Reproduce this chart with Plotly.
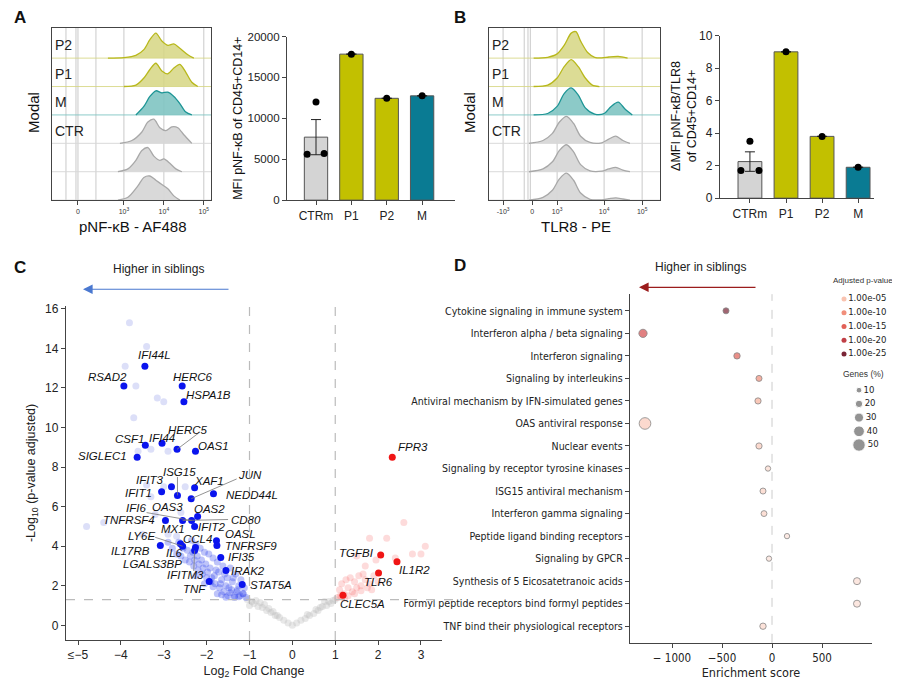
import plotly.graph_objects as go

# ---------------- DATA ----------------
histA_rows = ["P2", "P1", "M", "CTR", "", ""]
histA_x = [
    [2.6, 3.0, 3.3, 3.5, 3.65, 3.8, 3.95, 4.1, 4.25, 4.4, 4.6, 4.75],
    [3.0, 3.3, 3.5, 3.65, 3.8, 3.95, 4.1, 4.25, 4.4, 4.55, 4.7, 4.85],
    [3.3, 3.5, 3.65, 3.8, 3.95, 4.1, 4.25, 4.4, 4.55, 4.7],
    [2.9, 3.2, 3.45, 3.6, 3.75, 3.9, 4.05, 4.2, 4.35, 4.5, 4.7],
    [2.85, 3.1, 3.3, 3.45, 3.6, 3.75, 3.9, 4.0, 4.15, 4.3, 4.45],
    [2.85, 3.1, 3.35, 3.5, 3.65, 3.8, 3.95, 4.1, 4.25, 4.4],
]
histA_y = [
    [0, 0.02, 0.1, 0.3, 0.65, 0.88, 0.6, 0.45, 0.5, 0.35, 0.12, 0],
    [0, 0.05, 0.3, 0.6, 0.82, 0.55, 0.45, 0.65, 0.78, 0.5, 0.15, 0],
    [0, 0.3, 0.65, 0.85, 0.78, 0.8, 0.65, 0.4, 0.1, 0],
    [0, 0.1, 0.4, 0.75, 0.85, 0.55, 0.45, 0.58, 0.55, 0.3, 0],
    [0, 0.1, 0.4, 0.75, 0.85, 0.55, 0.4, 0.45, 0.3, 0.1, 0],
    [0, 0.1, 0.5, 0.8, 0.85, 0.7, 0.55, 0.4, 0.15, 0],
]
histB_x = [
    [2.5, 2.8, 3.0, 3.15, 3.3, 3.4, 3.5, 3.65, 3.8, 3.95, 4.1, 4.3, 4.5],
    [2.5, 2.8, 3.0, 3.15, 3.3, 3.45, 3.6, 3.75, 3.9],
    [2.5, 2.8, 3.0, 3.15, 3.3, 3.45, 3.6, 3.8, 4.0, 4.15, 4.3, 4.45, 4.6],
    [2.4, 2.7, 2.9, 3.05, 3.2, 3.35, 3.5, 3.7, 3.95, 4.1, 4.25, 4.4, 4.55],
    [2.4, 2.7, 2.9, 3.05, 3.2, 3.35, 3.5, 3.7, 3.95, 4.1, 4.25, 4.4, 4.55],
    [2.4, 2.7, 2.9, 3.05, 3.2, 3.35, 3.5, 3.7, 3.95, 4.1, 4.25, 4.4, 4.55],
]
histB_y = [
    [0, 0.03, 0.15, 0.45, 0.88, 0.93, 0.6, 0.2, 0.03, 0.01, 0.04, 0.06, 0],
    [0, 0.05, 0.3, 0.7, 0.95, 0.7, 0.3, 0.05, 0],
    [0, 0.05, 0.3, 0.75, 0.95, 0.7, 0.25, 0.03, 0.05, 0.3, 0.45, 0.2, 0],
    [0, 0.1, 0.35, 0.75, 0.95, 0.7, 0.25, 0.03, 0.02, 0.15, 0.25, 0.1, 0],
    [0, 0.1, 0.35, 0.75, 0.95, 0.7, 0.25, 0.03, 0.02, 0.1, 0.15, 0.06, 0],
    [0, 0.1, 0.35, 0.75, 0.95, 0.7, 0.25, 0.03, 0.01, 0.05, 0.08, 0.04, 0],
]
row_kind = ["y", "y", "t", "g", "g", "g"]

bar_cats = ["CTRm", "P1", "P2", "M"]
barA_vals = [7700, 17850, 12450, 12750]
barA_err = [2150, 0, 0, 0]
barA_pts_x = [-0.25, 0, 0.23, 1, 2, 3]
barA_pts_y = [5600, 12000, 5700, 17850, 12450, 12750]
barA_ticks = [0, 5000, 10000, 15000, 20000]
barB_vals = [2.25, 9.0, 3.8, 1.9]
barB_err = [0.6, 0, 0, 0]
barB_pts_x = [-0.25, 0, 0.25, 1, 2, 3]
barB_pts_y = [1.7, 3.5, 1.7, 9.0, 3.8, 1.9]

genes = ["IFI44L", "RSAD2", "HERC6", "HSPA1B", "CSF1", "IFI44", "HERC5", "OAS1", "SIGLEC1",
         "IFIT3", "XAF1", "IFIT1", "ISG15", "NEDD44L", "JUN", "OAS2", "TNFRSF4", "IFI6", "OAS3",
         "IFIT2", "LY6E", "CCL4", "IL17RB", "IL6", "LGALS3BP", "OASL", "TNFRSF9", "IFI35",
         "IRAK2", "STAT5A", "TNF"]
genes_fc = [-3.44, -3.93, -2.57, -2.53, -3.43, -3.04, -2.69, -2.26, -3.62,
            -2.82, -2.28, -3.05, -2.68, -1.84, -2.36, -2.21, -2.96, -2.56, -2.35,
            -2.28, -2.61, -2.56, -3.08, -2.26, -2.28, -1.77, -1.76, -1.67,
            -1.55, -1.17, -1.94]
genes_p = [13.1, 12.1, 12.1, 11.3, 9.1, 9.2, 8.9, 8.8, 8.5,
           7.0, 6.95, 6.75, 6.57, 6.65, 6.4, 5.5, 5.3, 5.3, 5.3,
           5.0, 4.12, 4.0, 4.03, 3.93, 3.78, 4.27, 4.03, 3.43,
           2.77, 2.06, 2.21]
up_genes = ["FPR3", "TGFBI", "IL1R2", "TLR6", "CLEC5A"]
up_fc = [2.33, 2.06, 2.44, 2.01, 1.18]
up_p = [8.5, 3.56, 3.22, 2.64, 1.52]

faint_blue_x = [-3.8, -3.4, -3.9, -3.65, -3.15, -3.0, -3.7, -3.6, -3.3, -2.9, -3.4, -3.0, -2.5,
                -3.3, -4.8, -4.4, -3.2, -2.6, -3.5, -2.9, -2.7]
faint_blue_y = [15.3, 14.1, 13.1, 12.1, 11.5, 11.3, 10.5, 8.8, 8.9, 8.8, 7.1, 7.0, 7.0,
                6.5, 5.0, 5.2, 5.6, 5.7, 4.6, 4.6, 4.5]
cloud_blue_x = [-1.08, -1.12, -1.15, -1.2, -1.22, -1.25, -1.3, -1.32, -1.35, -1.4,
                -1.42, -1.45, -1.5, -1.52, -1.55, -1.6, -1.62, -1.65, -1.7, -1.72,
                -1.75, -1.8, -1.82, -1.85, -1.9, -1.92, -1.95, -2.0, -2.02, -2.05,
                -2.1, -2.12, -2.15, -2.2, -2.22, -2.25, -2.3, -2.32, -2.35, -2.4,
                -2.45, -2.5, -2.55, -2.6, -2.65, -2.7, -2.8, -2.9,
                -1.15, -1.28, -1.38, -1.48, -1.58, -1.68, -1.78, -1.88, -1.98, -2.08, -2.18, -2.28, -2.38,
                -1.25, -1.45, -1.65, -1.85, -2.05, -2.25, -1.35, -1.55, -1.75]
cloud_blue_y = [1.4, 1.9, 1.6, 2.3, 1.5, 2.0, 1.7, 2.6, 1.4, 2.2,
                1.8, 2.9, 1.5, 2.4, 2.0, 1.7, 3.0, 2.3, 1.9, 2.7,
                3.2, 2.1, 2.5, 3.4, 2.2, 2.9, 3.6, 2.4, 3.1, 3.7,
                2.6, 3.3, 3.9, 2.8, 3.5, 4.1, 3.0, 3.7, 4.3, 3.2,
                3.8, 3.3, 3.9, 3.5, 4.2, 3.6, 3.9, 4.2,
                1.6, 1.8, 2.4, 1.9, 2.6, 2.1, 2.8, 2.4, 2.7, 2.9, 3.1, 3.3, 3.5,
                1.45, 1.65, 1.55, 1.95, 2.1, 2.5, 1.5, 1.42, 1.6]
gray_x = [-1.05, -0.95, -0.9, -0.85, -0.8, -0.7, -0.65, -0.6, -0.5, -0.45, -0.4, -0.3, -0.2, -0.1, 0,
          0.1, 0.2, 0.3, 0.4, 0.5, 0.6, 0.7, 0.8, 0.85, 0.9, 0.95, 1.0, -1.0, -0.75, -0.55, 0.65,
          0.75, 0.55, -0.35, 0.35]
gray_y = [1.3, 1.2, 1.1, 1.25, 0.95, 0.9, 1.05, 0.75, 0.65, 0.7, 0.5, 0.4, 0.25, 0.12, 0,
          0.12, 0.25, 0.35, 0.5, 0.6, 0.75, 0.95, 1.0, 1.2, 1.1, 1.25, 1.3, 1.0, 1.15, 0.85, 0.9,
          1.2, 0.8, 0.5, 0.55]
pink_x = [1.05, 1.1, 1.12, 1.15, 1.2, 1.22, 1.25, 1.3, 1.35, 1.4, 1.45, 1.5, 1.55, 1.6, 1.7, 1.75,
          1.8, 1.9, 2.0, 1.15, 1.3, 1.45, 1.6, 1.65, 1.85, 1.5, 1.8, 2.2, 2.6, 2.8, 3.1, 3.0, 2.4,
          1.7, 1.95]
pink_y = [1.4, 1.8, 1.5, 2.1, 1.6, 1.35, 2.3, 1.9, 2.4, 1.7, 2.2, 1.9, 2.5, 2.0, 2.3, 1.9,
          2.1, 2.5, 2.2, 1.45, 1.5, 1.6, 1.75, 2.6, 1.8, 3.5, 4.4, 4.4, 5.2, 3.6, 4.0, 3.6, 3.4,
          3.0, 3.3]

pathways = ["Cytokine signaling in immune system", "Interferon alpha / beta signaling",
            "Interferon signaling", "Signaling by interleukins",
            "Antiviral mechanism by IFN-simulated genes", "OAS antiviral response",
            "Nuclear events", "Signaling by receptor tyrosine kinases", "ISG15 antiviral mechanism",
            "Interferon gamma signaling", "Peptide ligand binding receptors", "Signaling by GPCR",
            "Synthesis of 5 Eicosatetranoic acids", "Formyl peptide receptors bind formyl peptides",
            "TNF bind their physiological receptors"]
enrich = [-460, -1290, -350, -130, -140, -1270, -130, -40, -90, -80, 150, -30, 850, 850, -90]
neglog_p = [25, 18, 15, 10, 7, 4, 4, 2, 3, 3, 1, 1, 1.5, 1.5, 2.5]
genes_pct = [12, 25, 14, 12, 13, 45, 13, 8, 12, 11, 8, 8, 18, 18, 14]
legend_p_labels = ["1.00e-05", "1.00e-10", "1.00e-15", "1.00e-20", "1.00e-25"]
legend_p_vals = [5, 10, 15, 20, 25]
legend_g_vals = [10, 20, 30, 40, 50]

# ---------------- STYLE ----------------
YEL_F, YEL_L = "rgba(214,214,130,0.85)", "#b8b81c"
TEAL_F, TEAL_L = "rgba(128,196,194,0.9)", "#1d9595"
GRAY_F, GRAY_L = "rgba(215,215,215,0.95)", "#a8a8a8"
BAR_COL = ["#d4d4d4", "#c2c000", "#c2c000", "#0a7b93"]
PSCALE = [[0, "#fde9e2"], [0.25, "#f8b9a3"], [0.5, "#ec7360"], [0.75, "#d2454a"], [1, "#7a2536"]]
FONT = "Liberation Sans, Arial, sans-serif"
NARROW = "DejaVu Sans Condensed, Liberation Sans Narrow, Liberation Sans, sans-serif"


def px_x(p):
    return p / 900


def px_y(p):
    return 1 - p / 684


fig = go.Figure()
shapes = []
ann = []


def hist(xs, ys, xa, ya, vlines, xr):
    for i, (x, y) in enumerate(zip(xs, ys)):
        off = 5 - i
        k = row_kind[i]
        fc, lc = {"y": (YEL_F, YEL_L), "t": (TEAL_F, TEAL_L), "g": (GRAY_F, GRAY_L)}[k]
        fig.add_trace(go.Scatter(x=[xr[0], xr[1]], y=[off, off], mode="lines",
                                 line=dict(color=fc, width=1), xaxis=xa, yaxis=ya,
                                 hoverinfo="skip", showlegend=False))
        fig.add_trace(go.Scatter(x=x, y=[off + v for v in y], mode="lines",
                                 line=dict(color=lc, width=1.3, shape="spline", smoothing=0.8),
                                 fill="toself", fillcolor=fc, xaxis=xa, yaxis=ya,
                                 hoverinfo="skip", showlegend=False))
    for v in vlines:
        shapes.append(dict(type="line", xref=xa, yref=ya + " domain", x0=v, x1=v, y0=0, y1=1,
                           line=dict(color="rgba(150,150,150,0.5)", width=1), layer="below"))


hist(histA_x, histA_y, "x", "y", [1.55, 1.8, 1.85, 2.3, 3, 4, 5], [1.2, 5.18])
hist(histB_x, histB_y, "x3", "y3", [1.85, 2.3, 2.38, 2.43, 3, 4, 4.81], [1.55, 5.19])

for i, lab in enumerate(histA_rows):
    if lab:
        for xa, ya, x0 in [("x", "y", 1.22), ("x3", "y3", 1.58)]:
            ann.append(dict(text=lab, x=x0, y=5 - i + 0.45, xref=xa, yref=ya, showarrow=False,
                            xanchor="left", font=dict(size=14, color="#222", family=FONT)))

for xa, ya, vals, err, ptx, pty in [("x2", "y2", barA_vals, barA_err, barA_pts_x, barA_pts_y),
                                    ("x4", "y4", barB_vals, barB_err, barB_pts_x, barB_pts_y)]:
    fig.add_trace(go.Bar(x=list(range(4)), y=vals, width=0.66, marker=dict(color=BAR_COL,
                         line=dict(color="#555", width=1)),
                         error_y=dict(type="data", array=err, visible=True, color="#222",
                                      thickness=1, width=5),
                         xaxis=xa, yaxis=ya, showlegend=False))
    fig.add_trace(go.Scatter(x=ptx, y=pty, mode="markers", marker=dict(color="black", size=7),
                             xaxis=xa, yaxis=ya, showlegend=False))

fig.add_trace(go.Scatter(x=gray_x, y=gray_y, mode="markers", xaxis="x5", yaxis="y5",
                         marker=dict(color="rgba(190,190,190,0.35)", size=7), showlegend=False))
fig.add_trace(go.Scatter(x=faint_blue_x, y=faint_blue_y, mode="markers", xaxis="x5", yaxis="y5",
                         marker=dict(color="rgba(205,210,245,0.7)", size=7), showlegend=False))
fig.add_trace(go.Scatter(x=cloud_blue_x, y=cloud_blue_y, mode="markers", xaxis="x5", yaxis="y5",
                         marker=dict(color="rgba(40,60,235,0.3)", size=7), showlegend=False))
fig.add_trace(go.Scatter(x=pink_x, y=pink_y, mode="markers", xaxis="x5", yaxis="y5",
                         marker=dict(color="rgba(245,90,90,0.22)", size=7), showlegend=False))
fig.add_trace(go.Scatter(x=genes_fc, y=genes_p, mode="markers", xaxis="x5", yaxis="y5",
                         marker=dict(color="#0a14ee", size=7), showlegend=False))
fig.add_trace(go.Scatter(x=up_fc, y=up_p, mode="markers", xaxis="x5", yaxis="y5",
                         marker=dict(color="#f01515", size=7), showlegend=False))

for v in [-1, 1]:
    shapes.append(dict(type="line", xref="x5", yref="y5 domain", x0=v, x1=v, y0=0, y1=1,
                       line=dict(color="#bbb", width=1.2, dash="dash")))
shapes.append(dict(type="line", xref="x5 domain", yref="y5", x0=0, x1=1.03, y0=1.3, y1=1.3,
                   line=dict(color="#bbb", width=1.2, dash="dash")))

label_pos = {
    "IFI44L": (-3.21, 13.65), "RSAD2": (-4.32, 12.54), "HERC6": (-2.32, 12.54),
    "HSPA1B": (-1.95, 11.65), "HERC5": (-2.43, 9.9), "CSF1": (-3.79, 9.4), "IFI44": (-3.04, 9.47),
    "OAS1": (-1.84, 9.08), "SIGLEC1": (-4.42, 8.58), "ISG15": (-2.63, 7.74), "IFIT3": (-3.34, 7.33),
    "XAF1": (-1.94, 7.29), "JUN": (-1.0, 7.6), "IFIT1": (-3.6, 6.7), "NEDD44L": (-0.95, 6.57),
    "IFI6": (-3.65, 5.94), "OAS3": (-2.92, 5.97), "OAS2": (-1.93, 5.87), "CD80": (-1.09, 5.35),
    "TNFRSF4": (-3.8, 5.3), "MX1": (-2.78, 4.87), "IFIT2": (-1.89, 4.98), "OASL": (-1.21, 4.6),
    "LY6E": (-3.52, 4.5), "CCL4": (-2.22, 4.34), "TNFRSF9": (-0.96, 4.0), "IL17RB": (-3.77, 3.78),
    "IL6": (-2.74, 3.68), "IFI35": (-1.19, 3.43), "LGALS3BP": (-3.27, 3.1), "IRAK2": (-1.03, 2.76),
    "IFITM3": (-2.5, 2.52), "STAT5A": (-0.51, 2.05), "TNF": (-2.28, 1.85),
    "FPR3": (2.81, 9.03), "TGFBI": (1.5, 3.68), "IL1R2": (2.85, 2.8), "TLR6": (2.0, 2.21),
    "CLEC5A": (1.63, 1.1),
}
leader = {"HERC5": (-2.69, 8.9), "ISG15": (-2.68, 6.57), "JUN": (-2.36, 6.4),
          "IFI6": (-2.35, 5.3), "CD80": (-2.56, 5.3), "LY6E": (-2.56, 4.0),
          "IFITM3": (-2.28, 3.78)}
leader_start = {"HERC5": (-2.2, 9.7), "ISG15": (-2.68, 7.5), "JUN": (-1.3, 7.4),
                "IFI6": (-3.4, 5.7), "CD80": (-1.5, 5.35), "LY6E": (-3.2, 4.45),
                "IFITM3": (-2.3, 2.75)}
for g, (lx, ly) in label_pos.items():
    ann.append(dict(text="<i>" + g + "</i>", x=lx, y=ly, xref="x5", yref="y5", showarrow=False,
                    font=dict(size=11.5, color="#111", family=FONT)))
for g, (sx, sy) in leader_start.items():
    ex, ey = leader[g]
    shapes.append(dict(type="line", xref="x5", yref="y5", x0=sx, y0=sy, x1=ex, y1=ey,
                       line=dict(color="#777", width=0.8)))

fig.add_trace(go.Scatter(x=enrich, y=pathways, mode="markers", xaxis="x6", yaxis="y6",
                         marker=dict(size=[4 + g * 0.17 for g in genes_pct], color=neglog_p,
                                     colorscale=PSCALE, cmin=0, cmax=25,
                                     line=dict(color="#555", width=0.8)),
                         showlegend=False))
shapes.append(dict(type="line", xref="x6", yref="y6 domain", x0=0, x1=0, y0=0, y1=1,
                   line=dict(color="#ccc", width=1, dash="dash")))
fig.add_trace(go.Scatter(x=[836] * 5, y=[290, 304, 318, 332, 346], mode="markers+text",
                         text=legend_p_labels, textposition="middle right",
                         textfont=dict(size=9.5, family=NARROW, color="#222"),
                         marker=dict(size=5, color=legend_p_vals, colorscale=PSCALE, cmin=0, cmax=25),
                         xaxis="x7", yaxis="y7", showlegend=False))
fig.add_trace(go.Scatter(x=[851] * 5, y=[383, 397, 411, 425, 439], mode="markers+text",
                         text=[str(v) for v in legend_g_vals], textposition="middle right",
                         textfont=dict(size=9.5, family=NARROW, color="#222"),
                         marker=dict(size=[4 + g * 0.17 for g in legend_g_vals], color="#666"),
                         xaxis="x7", yaxis="y7", showlegend=False))
ann.append(dict(text="Adjusted p-value", x=855, y=271, xref="x7", yref="y7", showarrow=False,
                font=dict(size=8, color="#333", family=FONT)))
ann.append(dict(text="Genes (%)", x=855, y=366, xref="x7", yref="y7", showarrow=False,
                font=dict(size=8.5, color="#333", family=FONT)))

for (x0, x1, y, col, tx, ty) in [(222, 75, 280, "#4a78d0", 150, 267), (749, 631, 278, "#9b1c1c", 692, 265)]:
    ann.append(dict(x=px_x(x1), y=px_y(y), ax=x0 - x1, ay=0, xref="paper", yref="paper",
                    axref="pixel", ayref="pixel", showarrow=True, arrowhead=2, arrowsize=1.6,
                    arrowwidth=1.2, arrowcolor=col, text=""))
    ann.append(dict(text="Higher in siblings", x=px_x(tx), y=px_y(ty - 8), xref="paper", yref="paper",
                    showarrow=False, xanchor="center", yanchor="middle",
                    font=dict(size=12, color="#222", family=FONT)))
for lab, x, y in [("A", 12, 3), ("B", 452, 3), ("C", 12, 258), ("D", 452, 256)]:
    ann.append(dict(text="<b>" + lab + "</b>", x=px_x(x), y=px_y(y), xref="paper", yref="paper",
                    showarrow=False, xanchor="center", yanchor="middle",
                    font=dict(size=17, color="#111", family=FONT)))
for txt, x, y, rot, sz in [("Modal", 26, 100, -90, 15), ("Modal", 462, 100, -90, 15),
                           ("pNF-κB - AF488", 125, 216, 0, 15), ("TLR8 - PE", 568, 216, 0, 15),
                           ("MFI pNF-κB of CD45+CD14+", 230, 105, -90, 12.5),
                           ("ΔMFI pNF-κB/TLR8<br>of CD45+CD14+", 676, 103, -90, 12.5)]:
    ann.append(dict(text=txt, x=px_x(x), y=px_y(y), xref="paper", yref="paper", showarrow=False,
                    xanchor="center", yanchor="middle",
                    textangle=rot, font=dict(size=sz, color="#111", family=FONT)))

axfont = dict(size=12, color="#222", family=FONT)
bfont = dict(size=11.5, color="#222", family=FONT)
tiny = dict(size=7, color="#333", family=FONT)
line_ax = dict(showline=True, linecolor="#444", linewidth=1.3, showgrid=False, zeroline=False,
               ticks="outside", ticklen=4, tickcolor="#444")

layout = dict(
    width=900, height=684, margin=dict(l=0, r=0, t=0, b=0),
    paper_bgcolor="white", plot_bgcolor="rgba(0,0,0,0)", showlegend=False,
    font=dict(family=FONT),
    xaxis=dict(domain=[px_x(44), px_x(203)], range=[1.2, 5.18], tickvals=[1.85, 3, 4, 5],
               ticktext=["0", "10<sup>3</sup>", "10<sup>4</sup>", "10<sup>5</sup>"], tickfont=tiny,
               mirror=True, **line_ax),
    yaxis=dict(domain=[px_y(189), px_y(13)], range=[0, 6.07], showticklabels=False,
               showline=True, linecolor="#444", mirror=True, showgrid=False, zeroline=False),
    xaxis3=dict(domain=[px_x(481), px_x(652)], range=[1.55, 5.19], tickvals=[1.85, 2.47, 3, 4, 4.81],
                ticktext=["-10<sup>3</sup>", "0", "10<sup>3</sup>", "10<sup>4</sup>", "10<sup>5</sup>"],
                tickfont=tiny, mirror=True, anchor="y3", **line_ax),
    yaxis3=dict(domain=[px_y(189), px_y(13)], range=[0, 6.07], showticklabels=False, anchor="x3",
                showline=True, linecolor="#444", mirror=True, showgrid=False, zeroline=False),
    xaxis2=dict(domain=[px_x(279), px_x(447)], range=[-0.82, 3.93], tickvals=[0, 1, 2, 3],
                ticktext=bar_cats, tickfont=axfont, anchor="y2", **line_ax),
    yaxis2=dict(domain=[px_y(189), px_y(22)], range=[0, 20000], tickvals=barA_ticks,
                ticktext=[str(v) for v in barA_ticks], tickfont=bfont, anchor="x2", **line_ax),
    xaxis4=dict(domain=[px_x(712), px_x(866)], range=[-0.83, 3.44], tickvals=[0, 1, 2, 3],
                ticktext=bar_cats, tickfont=axfont, anchor="y4", **line_ax),
    yaxis4=dict(domain=[px_y(187), px_y(21)], range=[0, 10], tickvals=[0, 2, 4, 6, 8, 10],
                tickfont=axfont, anchor="x4", **line_ax),
    xaxis5=dict(domain=[px_x(58), px_x(434)], range=[-5.28, 3.49], tickvals=[-5, -4, -3, -2, -1, 0, 1, 2, 3],
                ticktext=["≤−5", "−4", "−3", "−2", "−1", "0", "1", "2", "3"], tickfont=axfont,
                anchor="y5", title=dict(text="Log<sub>2</sub> Fold Change", font=dict(size=12.5, color="#222"),
                                        standoff=4), **line_ax),
    yaxis5=dict(domain=[px_y(638), px_y(297)], range=[-0.74, 16.15], tickvals=[0, 2, 4, 6, 8, 10, 12, 14, 16],
                tickfont=axfont, anchor="x5",
                title=dict(text="-Log<sub>10</sub> (p-value adjusted)", font=dict(size=12.5, color="#222"),
                           standoff=6), **line_ax),
    xaxis6=dict(domain=[px_x(622), px_x(864)], range=[-1420, 1000], tickvals=[-1000, -500, 0, 500],
                ticktext=["− 1000", "−500", "0", "500"], tickfont=dict(size=11.5, color="#222", family=NARROW),
                anchor="y6", title=dict(text="Enrichment score", font=dict(size=12.5, color="#222", family=NARROW),
                                        standoff=4), **line_ax),
    yaxis6=dict(domain=[px_y(641), px_y(285)], range=[14.74, -0.74], type="category",
                categoryorder="array", categoryarray=pathways,
                tickfont=dict(size=10.5, color="#222", family=NARROW), anchor="x6", **line_ax),
    xaxis7=dict(domain=[px_x(820), 1], range=[820, 900], visible=False, anchor="y7"),
    yaxis7=dict(domain=[px_y(450), px_y(262)], range=[450, 262], visible=False, anchor="x7"),
    shapes=shapes, annotations=ann,
)
fig.update_layout(**layout)
fig.write_html("out.html")
